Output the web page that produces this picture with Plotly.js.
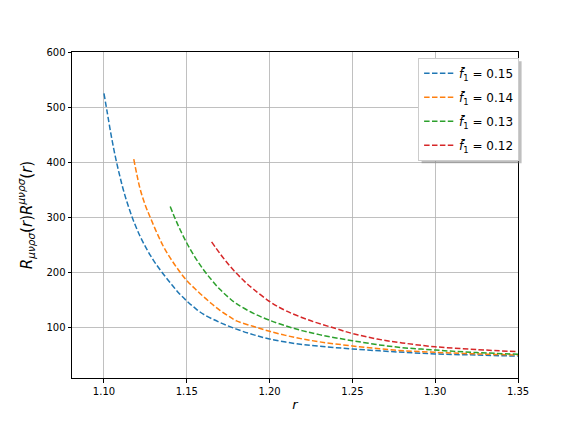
<!DOCTYPE html>
<html>
<head>
<meta charset="utf-8">
<script src="https://cdn.plot.ly/plotly-3.0.1.min.js"></script>
<style>
  body { margin: 0; background: #fff; }
  #chart { width: 576px; height: 432px; }
</style>
</head>
<body>
<div id="chart"></div>
<script>
// values
var r15 = [1.100, 1.102, 1.104, 1.106, 1.108, 1.110, 1.112, 1.115, 1.118, 1.122, 1.126, 1.130, 1.135, 1.140, 1.145, 1.150, 1.155, 1.160, 1.170, 1.180, 1.190, 1.200, 1.215, 1.230, 1.250, 1.275, 1.300, 1.325, 1.350];
var k15 = [525, 490, 455, 423, 395, 370, 347, 318, 293, 265, 242, 222, 201, 182, 164, 149, 136, 125, 110, 98, 88, 80, 72, 67, 62, 57, 53, 51, 49];

var r14 = [1.118, 1.120, 1.122, 1.125, 1.128, 1.132, 1.136, 1.140, 1.145, 1.150, 1.155, 1.160, 1.165, 1.170, 1.175, 1.180, 1.190, 1.200, 1.215, 1.230, 1.250, 1.275, 1.300, 1.325, 1.350];
var k14 = [406, 376, 350, 322, 300, 272, 247, 227, 205, 186, 171, 157, 144, 132, 122, 113, 103, 94, 83, 75, 67.5, 60, 56, 53, 51];

var r13 = [1.140, 1.143, 1.146, 1.150, 1.155, 1.160, 1.165, 1.170, 1.175, 1.180, 1.190, 1.200, 1.215, 1.230, 1.250, 1.275, 1.300, 1.325, 1.350];
var k13 = [320, 298, 278, 254, 228, 206, 187, 170, 156, 144, 127, 114, 99, 88, 77, 66, 60, 55.5, 52.5];

var r12 = [1.165, 1.170, 1.175, 1.180, 1.185, 1.190, 1.200, 1.210, 1.225, 1.240, 1.250, 1.265, 1.280, 1.300, 1.325, 1.350];
var k12 = [256, 235, 216, 199, 184, 171, 148, 131, 113, 99, 90, 80, 73, 66, 61, 57];

var names = ["0.15", "0.14", "0.13", "0.12"];
var colors = ["#1f77b4", "#ff7f0e", "#2ca02c", "#d62728"];
var xs = [r15, r14, r13, r12];
var ys = [k15, k14, k13, k12];

var data = xs.map(function (x, i) {
  return {
    x: x,
    y: ys[i],
    type: "scatter",
    mode: "lines",
    name: "<i>f̄</i><sub>1</sub> = " + names[i],
    legendgroup: "g" + i,
    line: { color: colors[i], width: 1.5, dash: "5.5px,2.4px", shape: "spline", smoothing: 1 }
  };
});

var axisStyle = {
  showline: true,
  mirror: true,
  linecolor: "#000",
  linewidth: 1,
  ticks: "outside",
  ticklen: 3.5,
  tickcolor: "#000",
  showgrid: true,
  gridcolor: "#b0b0b0",
  gridwidth: 0.8,
  zeroline: false,
  tickfont: { size: 10, color: "#000" }
};

var layout = {
  width: 576,
  height: 432,
  margin: { l: 72, r: 58, t: 52, b: 54 },
  paper_bgcolor: "#fff",
  plot_bgcolor: "#fff",
  font: { family: "DejaVu Sans", color: "#000" },
  showlegend: true,
  xaxis: Object.assign({}, axisStyle, {
    range: [1.0807, 1.35],
    tickvals: [1.10, 1.15, 1.20, 1.25, 1.30, 1.35],
    ticktext: ["1.10", "1.15", "1.20", "1.25", "1.30", "1.35"],
    title: { text: "<i>r</i>", font: { size: 13 }, standoff: 4 }
  }),
  yaxis: Object.assign({}, axisStyle, {
    range: [9.4, 600],
    tickvals: [100, 200, 300, 400, 500, 600],
    title: {
      text: "<i>R</i><sub><i>μνρσ</i></sub>(<i>r</i>)<i>R</i><sup><i>μνρσ</i></sup>(<i>r</i>)",
      font: { size: 15 },
      standoff: 10
    }
  }),
  legend: {
    x: 0.776,
    y: 0.982,
    xanchor: "left",
    yanchor: "top",
    bgcolor: "#fff",
    bordercolor: "#cccccc",
    borderwidth: 1,
    font: { size: 12, color: "#000" },
    tracegroupgap: 5
  }
};

Plotly.newPlot("chart", data, layout, { displayModeBar: false, staticPlot: true }).then(function (gd) {
  // drop shadow behind the legend box, placed from the legend's drawn size
  var bg = gd.querySelector(".legend .bg");
  if (!bg) return;
  var box = bg.getBoundingClientRect();
  var host = gd.getBoundingClientRect();
  var fs = gd._fullLayout._size;
  var px = function (v) { return (v - host.left - fs.l) / fs.w; };
  var py = function (v) { return 1 - (v - host.top - fs.t) / fs.h; };
  Plotly.relayout(gd, {
    shapes: [{
      type: "rect", xref: "paper", yref: "paper",
      x0: px(box.left + 3), x1: px(box.right + 3),
      y0: py(box.bottom + 3), y1: py(box.top + 3),
      fillcolor: "#7f7f7f", opacity: 0.5,
      line: { width: 0 }, layer: "above"
    }]
  });
});
</script>
</body>
</html>
